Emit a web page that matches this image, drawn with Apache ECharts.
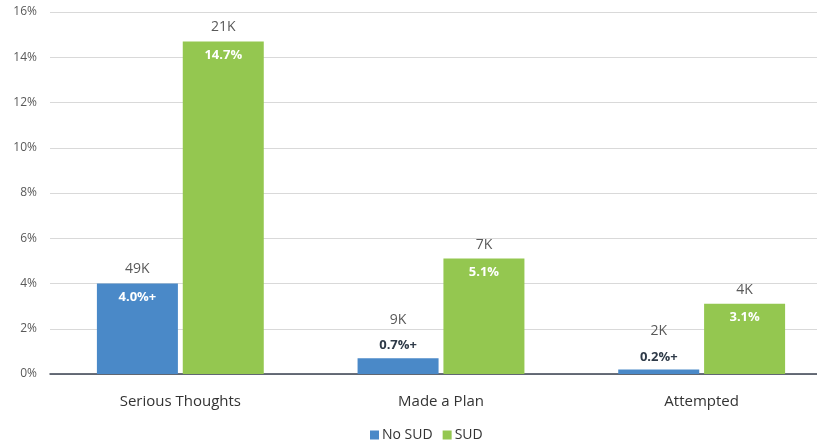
<!DOCTYPE html>
<html>
<head>
<meta charset="utf-8">
<script src="https://cdn.jsdelivr.net/npm/echarts@6/dist/echarts.min.js"></script>
<style>
  html, body { margin: 0; padding: 0; background: #fff; overflow: hidden; }
  /* the plot runs past the right edge of the view, so the canvas is a bit wider than the window */
  #chart { width: 832px; height: 445px; }
</style>
</head>
<body>
<div id="chart"></div>
<script>
// Suicidal ideation / behaviour rates by substance use disorder status
const categories = ['Serious Thoughts', 'Made a Plan', 'Attempted'];
const noSudPct = [4.0, 0.7, 0.2];
const sudPct = [14.7, 5.1, 3.1];
const noSudCount = ['49K', '9K', '2K'];
const sudCount = ['21K', '7K', '4K'];
const noSudPctText = ['4.0%+', '0.7%+', '0.2%+'];
const sudPctText = ['14.7%', '5.1%', '3.1%'];
const yTicks = [0, 2, 4, 6, 8, 10, 12, 14, 16];

const FONT = '"Open Sans", "Noto Sans", sans-serif';
const BLUE = '#4a89c8';
const GREEN = '#94c750';
const SMALL_BAR = 2; // bars below this height carry their percent above the bar

function pctData(values, texts) {
  return values.map((v, i) => {
    const small = v < SMALL_BAR;
    return {
      value: v,
      label: small
        ? { position: 'top', distance: 6, color: '#2e3a48', formatter: texts[i] }
        : { position: 'insideTop', distance: 7, color: '#ffffff', formatter: texts[i] }
    };
  });
}

function countData(values, texts) {
  // zero-height cap stacked on each bar; its label holds the count
  return values.map((v, i) => ({
    value: 0,
    label: { formatter: texts[i], distance: v < SMALL_BAR ? 31 : 7 }
  }));
}

const chart = echarts.init(document.getElementById('chart'), null, { renderer: 'canvas' });
chart.setOption({
  animation: false,
  textStyle: { fontFamily: FONT },
  grid: { left: 50, top: 12, right: 0, bottom: 71, containLabel: false },
  legend: {
    bottom: -2,
    left: 365,
    itemWidth: 9,
    itemHeight: 9,
    itemGap: 10,
    icon: 'rect',
    textStyle: { fontSize: 14, color: '#333', fontFamily: FONT, padding: [0, 0, 0, -2] },
    data: ['No SUD', 'SUD']
  },
  xAxis: {
    type: 'category',
    data: categories,
    axisTick: { show: false },
    axisLine: { lineStyle: { color: '#3a4250', width: 1.5 } },
    axisLabel: { fontSize: 15, color: '#333', margin: 20, fontFamily: FONT }
  },
  yAxis: {
    type: 'value',
    min: yTicks[0],
    max: yTicks[yTicks.length - 1],
    interval: 2,
    axisLine: { show: false },
    axisTick: { show: false },
    splitLine: { lineStyle: { color: '#d9d9d9', width: 1 } },
    axisLabel: { fontSize: 12, color: '#595959', margin: 13, formatter: v => v + '%', fontFamily: FONT }
  },
  series: [
    {
      name: 'No SUD', type: 'bar', stack: 'nosud',
      barWidth: 81, barGap: '6%',
      itemStyle: { color: BLUE },
      label: { show: true, fontSize: 13, fontWeight: 'bold', fontFamily: FONT },
      data: pctData(noSudPct, noSudPctText)
    },
    {
      name: 'No SUD', type: 'bar', stack: 'nosud',
      barWidth: 81,
      itemStyle: { color: 'rgba(0,0,0,0)' },
      label: { show: true, position: 'top', fontSize: 14, color: '#595959', fontFamily: FONT },
      data: countData(noSudPct, noSudCount)
    },
    {
      name: 'SUD', type: 'bar', stack: 'sud',
      barWidth: 81,
      itemStyle: { color: GREEN },
      label: { show: true, fontSize: 13, fontWeight: 'bold', fontFamily: FONT },
      data: pctData(sudPct, sudPctText)
    },
    {
      name: 'SUD', type: 'bar', stack: 'sud',
      barWidth: 81,
      itemStyle: { color: 'rgba(0,0,0,0)' },
      label: { show: true, position: 'top', fontSize: 14, color: '#595959', fontFamily: FONT },
      data: countData(sudPct, sudCount)
    }
  ]
});
</script>
</body>
</html>
